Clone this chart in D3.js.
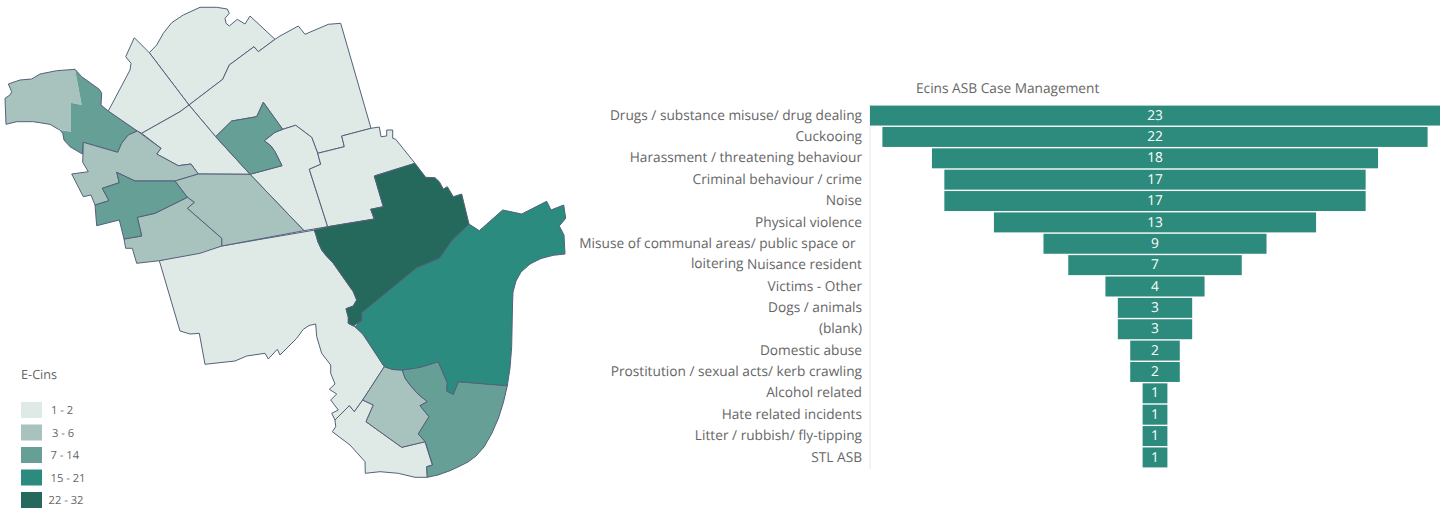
<!DOCTYPE html>
<html>
<head>
<meta charset="utf-8">
<script src="https://cdn.jsdelivr.net/npm/d3@7"></script>
<style>
  html, body { margin: 0; padding: 0; background: #fff; overflow: hidden; }
  svg { display: block; font-family: "Open Sans", sans-serif; text-rendering: geometricPrecision; }
  text { fill: #666; }
  .labels { opacity: 0.999; }
</style>
</head>
<body>
<svg id="chart" width="1441" height="511"></svg>
<script>
// ---- Case counts by type ----
const categories = [
  "Drugs / substance misuse/ drug dealing", "Cuckooing",
  "Harassment / threatening behaviour", "Criminal behaviour / crime", "Noise",
  "Physical violence", "Misuse of communal areas/ public space or loitering",
  "Nuisance resident", "Victims - Other", "Dogs / animals", "(blank)",
  "Domestic abuse", "Prostitution / sexual acts/ kerb crawling",
  "Alcohol related", "Hate related incidents", "Litter / rubbish/ fly-tipping",
  "STL ASB"
];
const caseCounts = [23, 22, 18, 17, 17, 13, 9, 7, 4, 3, 3, 2, 2, 1, 1, 1, 1];
const funnelTitle = "Ecins ASB Case Management";

// ---- Choropleth bands ----
const legendTitle = "E-Cins";
const bandLabels = ["1 - 2", "3 - 6", "7 - 14", "15 - 21", "22 - 32"];
const bandColors = ["#dfeae6", "#a8c3bd", "#659f95", "#2b8b7e", "#25695c"];

// ---- Ward outlines, as [x, y] rings in map units ----
const wardNorth = [[149.3,52.7],[156.7,45],[163.3,33.3],[171.7,22.7],[183.3,15],[200,7.3],[216.7,7.3],[227.3,9],[229.3,13.3],[225,18.3],[226,23.3],[229.3,26],[237.3,19.3],[245,24],[250,16],[275,39.3],[258.3,51.7],[254,46.7],[229.3,65],[222.7,79.3],[189,105]];
const wardNarrow = [[134.3,37.7],[149.3,52.7],[189,105],[180,111.7],[141.7,133.3],[137.3,131],[108.3,111],[130,70],[131,63.3],[125.7,56.7]];
const wardNorthEast = [[275,39.3],[280,36],[298.3,26],[305,34.3],[328.3,24.3],[340.7,23.3],[371,128.3],[341.7,136],[344.3,146.7],[317.7,153.3],[311.7,137.3],[295.7,125.3],[282.7,129.3],[263.3,102.3],[256.7,116.7],[231.7,121],[215.7,136.7],[189,105],[222.7,79.3],[229.3,65],[254,46.7],[258.3,51.7]];
const wardIsland = [[215.7,136.7],[231.7,121],[256.7,116.7],[263.3,102.3],[282.7,129.3],[275,132.3],[264.3,140.7],[271,146],[275,151.7],[282,165.7],[250,174.3]];
const wardCentre = [[141.7,133.3],[180,111.7],[189,105],[215.7,136.7],[250,174.3],[198.3,174],[191,164],[178.3,165.7],[156.7,154],[161,148.3]];
const wardSpine = [[282.7,129.3],[295.7,125.3],[311.7,137.3],[317.7,153.3],[320.7,164.3],[309.3,169.3],[327.7,226.7],[304,230.7],[250,174.3],[282,165.7],[275,151.7],[271,146],[264.3,140.7],[275,132.3]];
const wardBlock = [[317.7,153.3],[344.3,146.7],[341.7,136],[371,128.3],[379.3,127],[381,136.7],[386.7,136],[386.7,130],[392.7,130],[392.7,138.3],[395.7,139.3],[415,163.3],[374.3,176],[383.3,206.7],[370.7,209.3],[374.3,219],[327.7,226.7],[309.3,169.3],[320.7,164.3]];
const wardDark = [[415,163.3],[425.7,177.3],[435,177.7],[439.3,181.7],[443.3,189],[447.3,186.7],[453.3,196.7],[461.7,194],[469,224],[451.7,240.7],[439.3,258.3],[416.7,267.7],[361.7,312.7],[361.7,320.7],[353.3,326],[348.3,323.3],[348.3,317.3],[346,308.7],[353.3,306],[356.7,300],[353.3,291.7],[333.3,263.3],[326,255.5],[321.7,250],[318,242],[316,235],[314,230],[327.7,226.7],[374.3,219],[370.7,209.3],[383.3,206.7],[374.3,176]];
const wardEast = [[469,224],[479.3,230.7],[502.7,210],[521.7,214],[546.7,201.3],[551,210],[563.7,205],[565.7,218.3],[559.3,226],[564,235],[565,254],[553.3,255.3],[541,258.5],[530,264],[521,272],[516,281],[513,292],[512.5,305],[511.7,346.7],[510,368],[507.3,385.7],[458.3,381.7],[453.3,394.3],[446.7,391],[447.3,382.7],[438.3,361.7],[420,367.3],[402.3,370],[393,369.5],[384.3,366.7],[363.3,334.3],[355,326.7],[361.7,320.7],[361.7,312.7],[416.7,267.7],[439.3,258.3],[451.7,240.7]];
const wardSouth = [[159.3,260.7],[221.7,246],[315,230],[316,235],[318,242],[321.7,250],[326,255.5],[333.3,263.3],[353.3,291.7],[356.7,300],[353.3,306],[346,308.7],[348.3,317.3],[348.3,323.3],[355,326.7],[362.7,334],[384.3,366.7],[362.7,400],[354.3,411.7],[349.3,405.7],[335,420],[331.7,413.3],[338.3,410],[330.7,400],[336.7,394],[329.3,389.3],[335,384],[330.7,373.3],[330.7,365],[321.7,353.3],[316.7,336.7],[315.7,324],[309,325.5],[303.3,329.3],[296.7,338.3],[280,355],[277.3,349.3],[268.3,359],[265,353.3],[246.7,356],[235,361],[205,364.3],[199.3,333.3],[190,334],[180,331]];
const wardBottom = [[335,420],[349.3,405.7],[354.3,411.7],[362.7,400],[373.3,405],[366,421.7],[401.7,447.3],[425,441.7],[432.3,465],[426.7,466.7],[427.3,477.3],[415,477.3],[398.3,473.3],[380,471.7],[365.3,473.3],[365,461.7],[350,445],[332.3,431.7],[335.7,426.7]];
const wardSmallSouth = [[362.7,400],[384.3,366.7],[393,369.5],[402.3,370],[405,378],[410,385],[418,394],[427.3,401.7],[420,405.7],[429,416.7],[418.3,434],[425.3,441.7],[401.7,447.3],[366,421.7],[373.3,405]];
const wardSouthEast = [[402.3,370],[420,367.3],[438.3,361.7],[447.3,382.7],[446.7,391],[453.3,394.3],[458.3,381.7],[507.3,385.7],[503.5,402],[498.5,418],[492,433],[484,447],[476,456],[468,462],[458,467],[450,470.7],[438,475],[427.3,477.3],[426.7,466.7],[432.7,465],[425.3,441.7],[418.3,434],[429,416.7],[420,405.7],[427.3,401.7],[418,394],[410,385],[405,378]];
const wardRiverLight = [[75,69.3],[56.7,70.7],[40,74],[31.7,79],[20,80],[8.3,84],[11.7,91.7],[10,95],[5,98.3],[6,124.3],[16.7,121.7],[33.3,121.7],[50,124.3],[58.3,129.3],[71,131.7],[70.7,102.7],[81.7,105]];
const wardRiver = [[75,69.3],[81.7,76.7],[99.3,89.3],[101.7,93.3],[101,105],[108.3,111],[137.3,131],[128.3,135],[121.7,143.3],[117.7,152.3],[83.3,142.3],[82.3,154],[70,146.7],[64,140],[62.7,133.3],[60,130],[71,131.7],[70.7,102.7],[81.7,105]];
const wardRiverOutline = [[75,69.3],[81.7,76.7],[99.3,89.3],[101.7,93.3],[101,105],[108.3,111],[137.3,131],[128.3,135],[121.7,143.3],[117.7,152.3],[83.3,142.3],[82.3,154],[70,146.7],[64,140],[62.7,133.3],[60,130],[58.3,129.3],[50,124.3],[33.3,121.7],[16.7,121.7],[6,124.3],[5,98.3],[10,95],[11.7,91.7],[8.3,84],[20,80],[31.7,79],[40,74],[56.7,70.7]];
const wardWestUpper = [[137.3,131],[161,148.3],[156.7,154],[178.3,165.7],[191,164],[198.3,174],[175,181],[135,181],[116.7,172.3],[119.3,182.7],[102.3,188.3],[109,200.7],[95,205],[91,195],[83.3,196.7],[71.7,174],[88.3,171.7],[82.7,162.3],[83.3,142.3],[117.7,152.3],[121.7,143.3],[128.3,135]];
const wardWest = [[116.7,172.3],[135,181],[175,181],[187.3,197.3],[155,213.3],[137.3,217.3],[141.7,236],[124,239],[119.3,220],[96.7,225.7],[95,205],[109,200.7],[102.3,188.3],[119.3,182.7]];
const wardMiddle = [[175,181],[198.3,174],[250,174.3],[304,230.7],[221.7,246],[221.7,238.3],[187.3,208.3],[194.3,202.3],[187.3,197.3]];
const wardSouthWest = [[124,239],[141.7,236],[137.3,217.3],[155,213.3],[187.3,197.3],[194.3,202.3],[187.3,208.3],[221.7,238.3],[221.7,246],[200,253.3],[159.3,260.7],[136.7,263.3],[132.3,248.3],[125.7,248.3]];

// Each ward with the band it falls in
const wards = [
  { ring: wardNorth, band: "1 - 2" }, { ring: wardNarrow, band: "1 - 2" },
  { ring: wardNorthEast, band: "1 - 2" }, { ring: wardCentre, band: "1 - 2" },
  { ring: wardSpine, band: "1 - 2" }, { ring: wardBlock, band: "1 - 2" },
  { ring: wardSouth, band: "1 - 2" }, { ring: wardBottom, band: "1 - 2" },
  { ring: wardWestUpper, band: "3 - 6" }, { ring: wardMiddle, band: "3 - 6" },
  { ring: wardSouthWest, band: "3 - 6" }, { ring: wardSmallSouth, band: "3 - 6" },
  { ring: wardIsland, band: "7 - 14" }, { ring: wardWest, band: "7 - 14" },
  { ring: wardSouthEast, band: "7 - 14" },
  { ring: wardEast, band: "15 - 21" }, { ring: wardDark, band: "22 - 32" }
];

const svg = d3.select("#chart");
const outlineColor = "#55607c";
const labelSize = 13.7;
const bandColor = d3.scaleOrdinal().domain(bandLabels).range(bandColors);
const mapPath = d3.geoPath(d3.geoIdentity());
const asPolygon = ring => ({ type: "Polygon", coordinates: [[...ring, ring[0]]] });

// ---- Map ----
const map = svg.append("g");

// The riverside ward has two shades with no line between them, so its
// fills go down first and the outline is stroked separately.
map.selectAll("path.river")
  .data([{ ring: wardRiverLight, band: "3 - 6" }, { ring: wardRiver, band: "7 - 14" }])
  .join("path")
  .attr("class", "river")
  .attr("d", d => mapPath(asPolygon(d.ring)))
  .attr("fill", d => bandColor(d.band));
map.append("path")
  .attr("d", mapPath(asPolygon(wardRiverOutline)))
  .attr("fill", "none")
  .attr("stroke", outlineColor)
  .attr("stroke-width", 1);

map.selectAll("path.ward")
  .data(wards)
  .join("path")
  .attr("class", "ward")
  .attr("d", d => mapPath(asPolygon(d.ring)))
  .attr("fill", d => bandColor(d.band))
  .attr("stroke", outlineColor)
  .attr("stroke-width", 1)
  .attr("stroke-linejoin", "round");

// Text sits in one group so it is rendered with plain greyscale smoothing
const funnelBars = svg.append("g");
const labels = svg.append("g").attr("class", "labels");

// ---- Legend ----
const legendLabelX = [51, 52, 50.5, 50.5, 48.5];
const legendY = d3.scalePoint().domain(bandLabels).range([410, 500]);
labels.append("text")
  .attr("x", 21).attr("y", 374)
  .attr("dominant-baseline", "central")
  .attr("font-size", 12.7)
  .text(legendTitle);
funnelBars.append("g").selectAll("rect").data(bandLabels).join("rect")
  .attr("x", 21).attr("width", 21)
  .attr("y", d => legendY(d) - 8).attr("height", 16)
  .attr("fill", d => bandColor(d));
labels.append("g").selectAll("text").data(bandLabels).join("text")
  .attr("x", (d, i) => legendLabelX[i])
  .attr("y", d => legendY(d) + 0.5)
  .attr("dominant-baseline", "central")
  .attr("font-size", 11.2)
  .text(d => d);

// ---- Funnel ----
const axisX = 870;
const centerX = 1155;
const halfWidth = d3.scaleLinear().domain([0, 23]).range([0, 285]);
const rowY = d3.scaleBand().domain(categories).range([104.2, 468.8]).padding(0.065);

labels.append("text")
  .attr("x", 916).attr("y", 88.5)
  .attr("dominant-baseline", "central")
  .attr("font-size", labelSize)
  .text(funnelTitle);

funnelBars.append("line")
  .attr("x1", axisX).attr("x2", axisX)
  .attr("y1", 104).attr("y2", 469)
  .attr("stroke", "#e6e6e6").attr("stroke-width", 1);

const rows = categories.map((name, i) => ({ name, value: caseCounts[i] }));

funnelBars.append("g").selectAll("rect").data(rows).join("rect")
  .attr("x", d => centerX - halfWidth(d.value))
  .attr("width", d => 2 * halfWidth(d.value))
  .attr("y", d => rowY(d.name))
  .attr("height", rowY.bandwidth())
  .attr("fill", "#2d8b7d");

// Category labels; the one long label wraps onto the following row
const rowMid = name => rowY(name) + rowY.bandwidth() / 2 - 0.4;

labels.append("g").selectAll("text").data(rows).join("text")
  .attr("x", centerX)
  .attr("y", d => rowMid(d.name))
  .attr("text-anchor", "middle")
  .attr("dominant-baseline", "central")
  .attr("font-size", labelSize)
  .style("fill", "#fff")
  .text(d => d.value);

const longLabel = categories[6];
labels.append("g").selectAll("text")
  .data(categories.filter(c => c !== longLabel))
  .join("text")
  .attr("x", 862)
  .attr("y", rowMid)
  .attr("text-anchor", "end")
  .attr("dominant-baseline", "central")
  .attr("font-size", labelSize)
  .text(d => d);

const wrapAt = longLabel.indexOf(" loitering");
const labelLines = [
  { text: longLabel.slice(0, wrapAt), x: 855.5, y: rowMid(longLabel) },
  { text: longLabel.slice(wrapAt + 1), x: 743.5, y: rowMid(categories[7]) - 1.5 }
];
labels.append("g").selectAll("text").data(labelLines).join("text")
  .attr("x", d => d.x)
  .attr("y", d => d.y)
  .attr("text-anchor", "end")
  .attr("dominant-baseline", "central")
  .attr("font-size", labelSize)
  .text(d => d.text);
</script>
</body>
</html>
